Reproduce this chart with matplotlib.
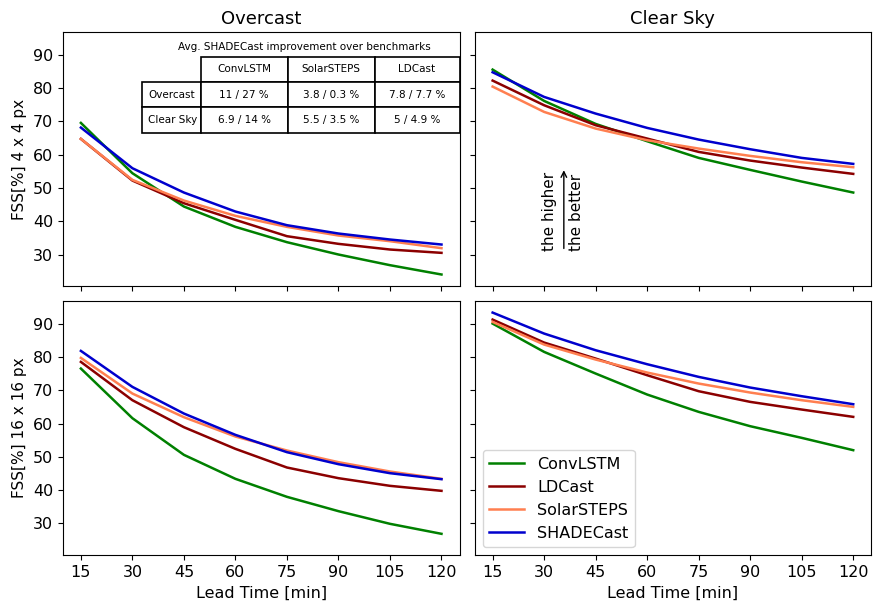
import matplotlib
matplotlib.use('Agg')
import matplotlib.pyplot as plt
from matplotlib.table import Table

lead = [15, 30, 45, 60, 75, 90, 105, 120]
models = ['ConvLSTM', 'LDCast', 'SolarSTEPS', 'SHADECast']
colors = ['green', 'darkred', 'coral', 'mediumblue']

# FSS values, 4x4 px
over_4 = {
    'ConvLSTM':   [69.5, 54.4, 44.4, 38.3, 33.7, 30.0, 26.8, 24.0],
    'LDCast':     [64.7, 52.2, 45.4, 40.4, 35.5, 33.2, 31.5, 30.5],
    'SolarSTEPS': [64.7, 52.4, 46.2, 41.6, 38.3, 35.7, 34.0, 31.9],
    'SHADECast':  [68.1, 55.9, 48.6, 42.9, 38.8, 36.3, 34.5, 33.0],
}
clear_4 = {
    'ConvLSTM':   [85.5, 76.1, 69.2, 64.0, 59.0, 55.4, 51.9, 48.6],
    'LDCast':     [82.2, 74.8, 68.8, 64.8, 60.8, 58.2, 56.1, 54.2],
    'SolarSTEPS': [80.4, 72.8, 67.8, 64.3, 61.8, 59.6, 57.7, 56.2],
    'SHADECast':  [84.7, 77.3, 72.3, 68.0, 64.5, 61.6, 59.0, 57.2],
}
# FSS values, 16x16 px
over_16 = {
    'ConvLSTM':   [76.5, 61.6, 50.6, 43.4, 38.0, 33.7, 29.9, 26.9],
    'LDCast':     [78.5, 67.0, 58.9, 52.4, 46.8, 43.6, 41.3, 39.8],
    'SolarSTEPS': [79.7, 69.0, 61.9, 56.1, 51.9, 48.4, 45.6, 43.4],
    'SHADECast':  [81.8, 71.0, 63.0, 56.6, 51.4, 47.8, 45.1, 43.3],
}
clear_16 = {
    'ConvLSTM':   [90.0, 81.5, 75.0, 68.7, 63.5, 59.2, 55.7, 52.0],
    'LDCast':     [91.2, 84.3, 79.5, 74.5, 69.7, 66.5, 64.2, 62.0],
    'SolarSTEPS': [90.5, 83.7, 79.2, 75.3, 72.0, 69.3, 67.0, 65.0],
    'SHADECast':  [93.3, 87.0, 82.0, 77.8, 74.0, 70.8, 68.2, 65.8],
}

tab_rows = ['Overcast', 'Clear Sky']
tab_cols = ['ConvLSTM', 'SolarSTEPS', 'LDCast']
tab_text = [['11 / 27 %', '3.8 / 0.3 %', '7.8 / 7.7 %'],
            ['6.9 / 14 %', '5.5 / 3.5 %', '5 / 4.9 %']]

fig, axes = plt.subplots(2, 2, sharex=True, sharey=True, figsize=(8.73, 6.05), dpi=100)
fig.subplots_adjust(left=0.072, right=0.998, top=0.947, bottom=0.0826,
                    wspace=0.038, hspace=0.059)

panels = [[over_4, clear_4], [over_16, clear_16]]
for i in range(2):
    for j in range(2):
        ax = axes[i, j]
        d = panels[i][j]
        for m, c in zip(models, colors):
            ax.plot(lead, d[m], color=c, lw=1.8, label=m)
        ax.tick_params(labelsize=11.5)

axes[0, 0].set_xticks(lead)
axes[0, 0].set_yticks([30, 40, 50, 60, 70, 80, 90])

axes[0, 0].set_title('Overcast', fontsize=13)
axes[0, 1].set_title('Clear Sky', fontsize=13)
axes[0, 0].set_ylabel('FSS[%] 4 x 4 px', fontsize=11)
axes[1, 0].set_ylabel('FSS[%] 16 x 16 px', fontsize=11)
axes[1, 0].set_xlabel('Lead Time [min]', fontsize=11.5)
axes[1, 1].set_xlabel('Lead Time [min]', fontsize=11.5)

axes[1, 1].legend(loc='lower left', fontsize=11.5, handlelength=2.2)

# improvement table, built cell by cell
ax = axes[0, 0]
tbl = Table(ax, bbox=[0.2, 0.603, 0.8, 0.3])
widths = [0.147, 0.219, 0.219, 0.214]
h = 0.1
for c, lab in enumerate(tab_cols):
    tbl.add_cell(0, c + 1, widths[c + 1], h, text=lab, loc='center')
for r, lab in enumerate(tab_rows):
    tbl.add_cell(r + 1, 0, widths[0], h, text=lab, loc='left')
    for c, val in enumerate(tab_text[r]):
        tbl.add_cell(r + 1, c + 1, widths[c + 1], h, text=val, loc='center')
tbl.auto_set_font_size(False)
tbl.set_fontsize(7.5)
for cell in tbl.get_celld().values():
    cell.set_linewidth(1.2)
ax.add_table(tbl)
ax.text(0.609, 0.941, 'Avg. SHADECast improvement over benchmarks',
        transform=ax.transAxes, ha='center', va='center', fontsize=7.5)

# the higher the better
ax = axes[0, 1]
ax.text(0.19, 0.137, 'the higher', rotation=90, transform=ax.transAxes,
        ha='center', va='bottom', fontsize=11)
ax.text(0.258, 0.137, 'the better', rotation=90, transform=ax.transAxes,
        ha='center', va='bottom', fontsize=11)
ax.annotate('', xy=(0.225, 0.467), xytext=(0.225, 0.137),
            xycoords='axes fraction',
            arrowprops=dict(arrowstyle='->', color='k', lw=1))

plt.savefig('out.png')
